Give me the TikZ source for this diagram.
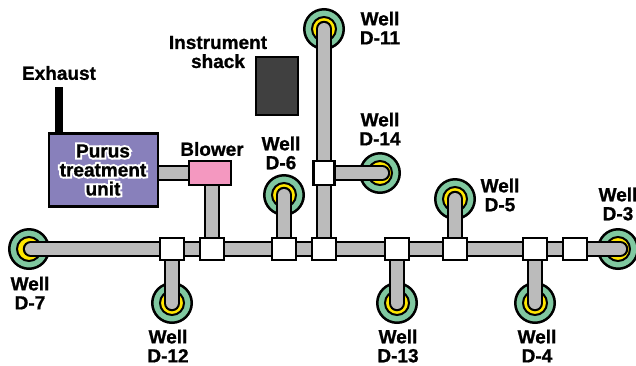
\documentclass[tikz,border=0pt]{standalone}
\usepackage{fontspec}
\usepackage{xcolor}
\usetikzlibrary{backgrounds}
\setmainfont[BoldFeatures={FakeBold=1}]{Liberation Sans}
\newfontfamily\halofont[FakeBold=22]{Liberation Sans Bold}
\definecolor{wellGreen} {RGB}{128, 200, 160}
\definecolor{wellYellow}{RGB}{255, 230,   0}
\definecolor{pipeGray}  {RGB}{187, 187, 187}
\definecolor{unitPurple}{RGB}{136, 128, 187}
\definecolor{blowerPink}{RGB}{244, 152, 192}
\definecolor{shackGray} {RGB}{ 64,  64,  64}
% white outline behind a word
\newcommand{\halotext}[1]{\leavevmode\setbox0=\hbox{#1}%
  \makebox[\wd0][c]{\makebox[0pt][c]{\halofont\color{white}#1}}\llap{\box0}}

\begin{document}
\begin{tikzpicture}[x=1pt,y=-1pt,
          wellno/.style={circle,draw=black,fill=wellGreen,minimum size=39.5pt,
                         inner sep=0pt,line width=2.5pt,
                         path picture={\draw[black,fill=wellYellow,line width=2pt]
                           (path picture bounding box.center) circle (12pt);}},
          pipe/.style={draw=black,double=pipeGray,double distance=12pt,
                       line width=2.25pt,line cap=round},
          jointh/.style={rectangle,draw=black,fill=white,line width=2.5pt,
                         minimum width=24pt,minimum height=22pt,inner sep=0pt},
          jointv/.style={rectangle,draw=black,fill=white,line width=2.5pt,
                         minimum width=21pt,minimum height=24pt,inner sep=0pt},
          label/.style={font=\bfseries\fontsize{19}{19}\selectfont,align=center,
                        inner sep=0pt},
        ]
        \useasboundingbox (0,0) rectangle (636,365);

        % JOINTS
        \node[jointh] (j12) at (172,249) {};
        \node[jointh] (jb)  at (212,249) {};
        \node[jointh] (j6)  at (284,249) {};
        \node[jointh] (j11) at (324,249) {};
        \node[jointh] (j13) at (397,249) {};
        \node[jointh] (j5)  at (455,249) {};
        \node[jointh] (j4)  at (535,249) {};
        \node[jointh] (jx)  at (575,249) {};
        \node[jointv] (j14) at (324,173) {};

        % EQUIPMENT
        \node[rectangle,draw=black,fill=unitPurple,line width=2.5pt,minimum width=109pt,
              minimum height=73pt] (unit) at (103.5,170) {};
        \node[rectangle,draw=black,fill=blowerPink,line width=2.5pt,minimum width=42pt,
              minimum height=24pt] (blower) at (210,173) {};
        \node[rectangle,draw=black,fill=shackGray,line width=2.5pt,minimum width=42pt,
              minimum height=58pt] (shack) at (277,86) {};
        \node[rectangle,fill=black,minimum width=8.5pt,minimum height=46pt,
              inner sep=0pt] (stack) at (59,110) {};

        % WELLS AND PIPES
        \begin{scope}[on background layer]
          \node[wellno] (d11) at (324,29)  {};
          \node[wellno] (d14) at (380,173) {};
          \node[wellno] (d6)  at (284,195) {};
          \node[wellno] (d5)  at (455,199) {};
          \node[wellno] (d3)  at (618,249) {};
          \node[wellno] (d7)  at (29,249)  {};
          \node[wellno] (d12) at (172,303) {};
          \node[wellno] (d13) at (397,303) {};
          \node[wellno] (d4)  at (535,303) {};
          \draw[pipe,shorten <=2pt,shorten >=-2pt] (d7.center)--(d3.center);
          \draw[pipe] (d11.center)--(j11.center);
          \draw[pipe,shorten <=-2pt] (d14.center)--(j14.center);
          \draw[pipe] (d6.center)--(j6.center);
          \draw[pipe] (d5.center)--(j5.center);
          \draw[pipe] (d12.center)--(j12.center);
          \draw[pipe] (d13.center)--(j13.center);
          \draw[pipe] (d4.center)--(j4.center);
          \draw[pipe] (unit.center |- blower.center)--(blower.center);
          \draw[pipe] (blower.center -| jb)--(jb.center);
        \end{scope}

        % LABELS
        \node[label] (lexh)  at (59,73)   {Exhaust};
        \node[label] (lshack) at (218,52) {Instrument\\shack};
        \node[label] (lblow) at (212,149) {Blower};
        \node[label] (lunit) at (103,170) {\halotext{Purus}\\\halotext{treatment}\\\halotext{unit}};
        \node[label] (ld11)  at (380,28)  {Well\\D-11};
        \node[label] (ld14)  at (380,129) {Well\\D-14};
        \node[label] (ld6)   at (281,153) {Well\\D-6};
        \node[label] (ld5)   at (500,195) {Well\\D-5};
        \node[label] (ld3)   at (618,204) {Well\\D-3};
        \node[label] (ld7)   at (30,293)  {Well\\D-7};
        \node[label] (ld12)  at (168,346) {Well\\D-12};
        \node[label] (ld13)  at (398,346) {Well\\D-13};
        \node[label] (ld4)   at (537,346) {Well\\D-4};
      \end{tikzpicture}
\end{document}
